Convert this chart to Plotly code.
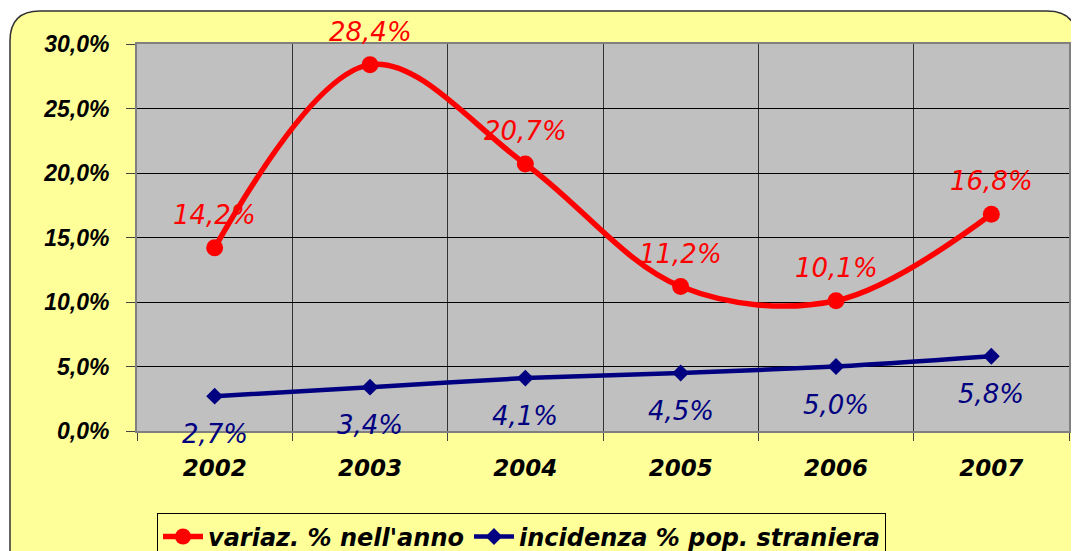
import plotly.graph_objects as go

# chart data
years = ["2002", "2003", "2004", "2005", "2006", "2007"]
variaz = [0.142, 0.284, 0.207, 0.112, 0.101, 0.168]
incidenza = [0.027, 0.034, 0.041, 0.045, 0.050, 0.058]

RED = "#FF0000"
NAVY = "#000080"
YELLOW = "#FFFF99"
GREY = "#C0C0C0"

x_idx = list(range(len(years)))


def pct_label(v):
    return f"{v * 100:.1f}%".replace(".", ",")


fig = go.Figure()

fig.add_trace(go.Scatter(
    x=x_idx, y=variaz, name="variaz. % nell'anno",
    mode="lines+markers",
    line=dict(color=RED, width=5.5, shape="spline", smoothing=1),
    marker=dict(symbol="circle", size=17, color=RED),
))
fig.add_trace(go.Scatter(
    x=x_idx, y=incidenza, name="incidenza % pop. straniera",
    mode="lines+markers",
    line=dict(color=NAVY, width=4.5, shape="spline", smoothing=0.6),
    marker=dict(symbol="diamond", size=13, color=NAVY),
))

label_font = dict(family="DejaVu Sans", size=26, style="italic")
annotations = []
for x, v in zip(x_idx, variaz):
    annotations.append(dict(x=x, y=v, text=pct_label(v), showarrow=False,
                            yshift=33, font=dict(color=RED, **label_font)))
for x, v in zip(x_idx, incidenza):
    annotations.append(dict(x=x, y=v, text=pct_label(v), showarrow=False,
                            yshift=-38, font=dict(color=NAVY, **label_font)))

# page has an 8px body margin, so the figure is 8px smaller and margins shifted.
# plot area on the page: x 137..1069, y 44..431.5
W, H = 932.0, 387.5
left, right = (10 - 137) / W, (1077 - 137) / W
top, bottom = (431.5 - 11) / H, (431.5 - 620) / H
rx, ry = 30 / W, 30 / H
frame_path = (
    f"M{left},{bottom} L{left},{top - ry} Q{left},{top} {left + rx},{top} "
    f"L{right - rx},{top} Q{right},{top} {right},{top - ry} L{right},{bottom} Z"
)

fig.update_layout(
    width=1071, height=543,
    margin=dict(l=129, r=10, t=36, b=119.5, autoexpand=False),
    paper_bgcolor="white",
    plot_bgcolor=GREY,
    separators=",.",
    showlegend=True,
    annotations=annotations,
    shapes=[
        dict(type="path", path=frame_path, xref="paper", yref="paper",
             fillcolor=YELLOW, line=dict(color="#333333", width=1.5),
             layer="below"),
        dict(type="rect", x0=0, x1=1, y0=0, y1=1, xref="paper", yref="paper",
             fillcolor=GREY, line=dict(width=0), layer="below"),
    ],
    xaxis=dict(
        range=[-0.5, 5.5], tickmode="array", tickvals=x_idx, ticktext=years,
        showgrid=False, ticks="", zeroline=False,
        tickfont=dict(family="DejaVu Sans", size=23, color="black",
                      weight="bold", style="italic"),
        ticklabelstandoff=15,
        showline=True, linecolor="#808080", linewidth=2, mirror=True,
        minor=dict(tick0=-0.5, dtick=1, ticks="outside", ticklen=8,
                   tickcolor="#444444", showgrid=True,
                   gridcolor="#333333", gridwidth=1),
    ),
    yaxis=dict(
        range=[0, 0.30], dtick=0.05, tickformat=".1%",
        gridcolor="black", gridwidth=1, zeroline=False,
        ticks="outside", ticklen=9, tickcolor="#444444",
        tickfont=dict(family="Liberation Sans", size=23, color="black",
                      weight="bold", style="italic"),
        ticklabelstandoff=12,
        showline=True, linecolor="#808080", linewidth=2, mirror=True,
    ),
    legend=dict(
        orientation="h", x=20 / W, y=(431.5 - 514) / H,
        xanchor="left", yanchor="top",
        bgcolor=YELLOW, bordercolor="black", borderwidth=1,
        itemwidth=40,
        font=dict(family="DejaVu Sans", size=24, color="black",
                  weight="bold", style="italic"),
    ),
)

fig.write_html("out.html")
